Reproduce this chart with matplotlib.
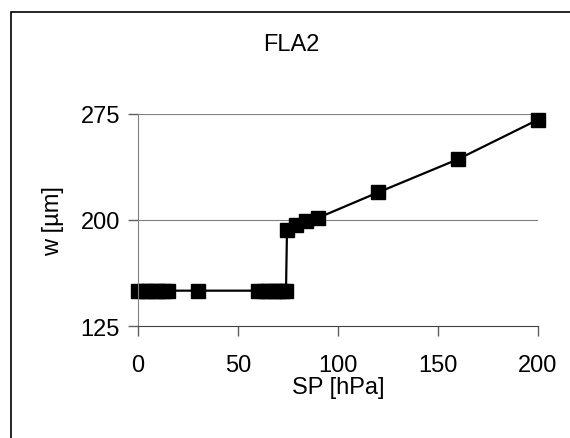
import matplotlib.pyplot as plt
from matplotlib.patches import Rectangle

plt.rcParams['font.family'] = ['Liberation Sans', 'DejaVu Sans']

# Data
sp_hpa = [0, 3, 5, 8, 10, 13, 15, 30, 60, 63, 65, 68, 70, 72, 74,
          74.5, 79, 84, 90, 120, 160, 200]
width_um = [150, 150, 150, 150, 150, 150, 150, 150, 150, 150, 150, 150, 150, 150, 150,
            193, 196.5, 199, 201.5, 219.5, 243, 271]
x_ticks = [0, 50, 100, 150, 200]
y_ticks = [125, 200, 275]

fig = plt.figure(figsize=(5.70, 4.39), dpi=100)
ax = fig.add_axes([138 / 570, 1 - 327 / 439, 400 / 570, 212 / 439])

# outer frame (only left and top edges are visible in the reference)
fig.patches.append(Rectangle((11 / 570, -0.1), 1.2, 1 - 13 / 439 + 0.1,
                             transform=fig.transFigure, fill=False,
                             edgecolor='black', linewidth=1.2))

ax.plot(sp_hpa, width_um, color='black', linewidth=1.6, marker='s',
        markersize=10, markerfacecolor='black', markeredgecolor='black', clip_on=False)

ax.set_xlim(0, 200)
ax.set_ylim(125, 275)
ax.set_xticks(x_ticks)
ax.set_yticks(y_ticks)

for y in y_ticks[1:]:
    ax.axhline(y, color='#808080', linewidth=0.8, zorder=0)

ax.spines['top'].set_visible(False)
ax.spines['right'].set_visible(False)
ax.spines['left'].set_color('#808080')
ax.spines['bottom'].set_color('#404040')
ax.tick_params(axis='both', direction='out', length=7, width=1, color='#606060',
               labelsize=17, pad=6)
ax.tick_params(axis='x', pad=13)

ax.set_xlabel('SP [hPa]', fontsize=17, labelpad=0)
ax.set_ylabel('w [µm]', fontsize=17, labelpad=12)
fig.text(291 / 570, 1 - 45 / 439, 'FLA2', fontsize=17, ha='center', va='center')

fig.savefig('out.png', dpi=100)
